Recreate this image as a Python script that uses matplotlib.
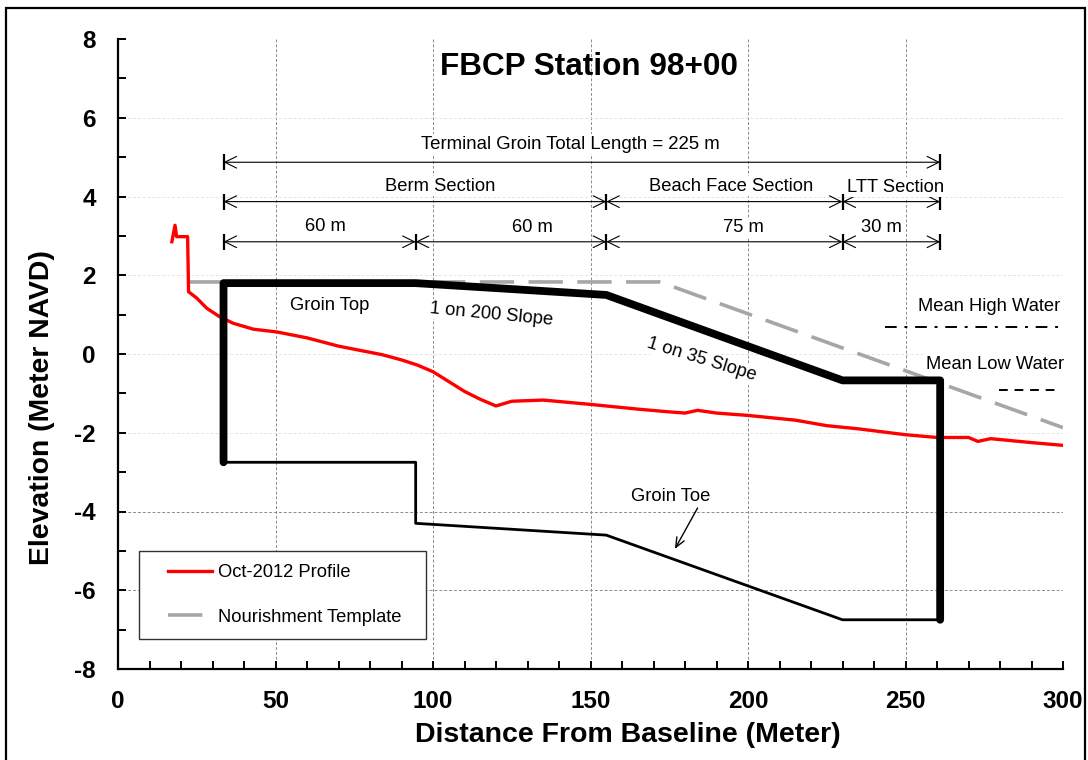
import matplotlib
matplotlib.use("Agg")
import matplotlib.pyplot as plt
from matplotlib.legend_handler import HandlerLine2D
from matplotlib.patches import Rectangle
from matplotlib.ticker import MultipleLocator

plt.rcParams["font.family"] = ["Liberation Sans", "DejaVu Sans"]
plt.rcParams["axes.unicode_minus"] = False

# Oct-2012 beach profile
profile_x = [17.1, 18.1, 18.6, 19.7, 22.1, 22.4, 25, 28.2, 32.4, 36.6, 43, 50.4, 60, 70, 84, 90, 95, 100,
             105, 110, 115, 120, 125, 135, 150, 165, 175, 180, 184, 190, 200, 215, 225, 235, 250, 260,
             270, 273, 277, 290, 300]
profile_y = [2.85, 3.27, 2.98, 2.98, 2.98, 1.58, 1.42, 1.16, 0.94, 0.78, 0.63, 0.56, 0.41, 0.2, -0.02, -0.15,
             -0.28, -0.45, -0.7, -0.95, -1.15, -1.32, -1.2, -1.17, -1.28, -1.4, -1.47, -1.5, -1.43, -1.5,
             -1.56, -1.68, -1.82, -1.9, -2.05, -2.12, -2.12, -2.22, -2.15, -2.25, -2.32]

template_x = [22, 172, 300]
template_y = [1.83, 1.83, -1.87]

groin_top_x = [33.5, 33.5, 94.5, 155, 230, 261, 261]
groin_top_y = [-2.75, 1.8, 1.8, 1.5, -0.67, -0.67, -6.75]
groin_toe_x = [33.5, 94.5, 94.5, 155, 230, 261]
groin_toe_y = [-2.75, -2.75, -4.3, -4.6, -6.75, -6.75]

mhw_x, mhw_y = [243.5, 299], [0.68, 0.68]
mlw_x, mlw_y = [279.7, 299], [-0.92, -0.92]

# dimension lines: elevation, then the stations they run between
dim_total = (4.87, [33.5, 261])
dim_sections = (3.87, [33.5, 155, 230, 261])
dim_lengths = (2.85, [33.5, 94.5, 155, 230, 261])

W, H = 1088, 760
fig = plt.figure(figsize=(W / 100, H / 100), dpi=100)
ax = fig.add_axes([118 / W, (H - 669) / H, 945 / W, 630 / H])

# outer frame runs off the bottom of the image
fig.add_artist(Rectangle((6 / W, -0.02), (1085 - 6) / W, (H - 8) / H + 0.02, transform=fig.transFigure,
                         fill=False, edgecolor="black", linewidth=1.6))

for v in [50, 100, 150, 200, 250]:
    ax.axvline(v, color="#8c8c8c", lw=0.7, ls=(0, (3, 2)), zorder=1)
for v in [-2, 0, 2, 4, 6]:
    ax.axhline(v, color="#e4e4e4", lw=0.7, ls=(0, (3, 2)), zorder=1)
for v in [-4, -6]:
    ax.axhline(v, color="#8c8c8c", lw=0.7, ls=(0, (3, 2)), zorder=1)

ax.plot(template_x, template_y, color="#a6a6a6", lw=2.6, ls=(0, (9.5, 4)), zorder=3,
        label="Nourishment Template")
ax.plot(profile_x, profile_y, color="#ff0000", lw=2.4, zorder=4, label="Oct-2012 Profile")
ax.plot(groin_top_x, groin_top_y, color="black", lw=5.6, zorder=5, solid_joinstyle="round", solid_capstyle="round")
ax.plot(groin_toe_x, groin_toe_y, color="black", lw=2.0, zorder=5)
ax.plot(mhw_x, mhw_y, color="black", lw=1.4, ls=(0, (6, 4, 1.5, 4)), zorder=3)
ax.plot(mlw_x, mlw_y, color="black", lw=1.4, ls=(0, (4.5, 3.5)), zorder=3)

for level, stations in [dim_total, dim_sections, dim_lengths]:
    for a, b in zip(stations[:-1], stations[1:]):
        ax.annotate("", xy=(b, level), xytext=(a, level), zorder=6,
                    arrowprops=dict(arrowstyle="<->,head_length=0.85,head_width=0.42", color="black", lw=0.8,
                                    shrinkA=0, shrinkB=0))
    ax.plot(stations, [level] * len(stations), ls="none", marker="|", ms=11, mew=1.6,
            color="black", zorder=6)


def note(x, y, s, size=13.2, rot=0):
    ax.text(x, y, s, ha="center", va="center", fontsize=size, rotation=rot, rotation_mode="anchor", zorder=7,
            bbox=dict(facecolor="white", edgecolor="none", pad=1.0))


ax.text(149.5, 7.3, "FBCP Station 98+00", ha="center", va="center", fontsize=22.7, fontweight="bold")
note(143.5, 5.33, "Terminal Groin Total Length = 225 m", 13.4)
note(102.2, 4.26, "Berm Section")
note(194.6, 4.26, "Beach Face Section")
note(247, 4.24, "LTT Section")
note(65.9, 3.23, "60 m")
note(131.7, 3.2, "60 m")
note(198.7, 3.2, "75 m")
note(242.4, 3.2, "30 m")
note(67.3, 1.24, "Groin Top")
note(118.4, 1.0, "1 on 200 Slope", rot=-5.5)
note(185.3, -0.15, "1 on 35 Slope", rot=-17)
note(276.5, 1.2, "Mean High Water")
note(278.4, -0.26, "Mean Low Water")
note(175.5, -3.63, "Groin Toe")
ax.annotate("", xy=(176.8, -4.95), xytext=(184, -3.91), zorder=6,
            arrowprops=dict(arrowstyle="->,head_length=0.7,head_width=0.3", color="black", lw=1.0,
                            shrinkA=0, shrinkB=0))

ax.set_xlim(0, 300)
ax.set_ylim(-8, 8)
ax.xaxis.set_major_locator(MultipleLocator(50))
ax.xaxis.set_minor_locator(MultipleLocator(10))
ax.yaxis.set_major_locator(MultipleLocator(2))
ax.yaxis.set_minor_locator(MultipleLocator(1))
ax.tick_params(which="both", direction="in", length=5.5, width=1.4)
ax.tick_params(axis="x", which="major", pad=15, labelsize=17.5)
ax.tick_params(axis="y", which="major", pad=16, labelsize=17.5)
for lab in ax.get_xticklabels() + ax.get_yticklabels():
    lab.set_fontweight("bold")
ax.spines["top"].set_visible(False)
ax.spines["right"].set_visible(False)
ax.spines["left"].set_linewidth(1.6)
ax.spines["bottom"].set_linewidth(1.6)

ax.set_xlabel("Distance From Baseline (Meter)", fontsize=20.5, fontweight="bold")
ax.xaxis.set_label_coords((628 - 118) / 945, -(735 - 669) / 630)
ax.xaxis.label.set_va("center")
ax.set_ylabel("Elevation (Meter NAVD)", fontsize=20.4, fontweight="bold")
ax.yaxis.set_label_coords((42 - 118) / 945, (669 - 408) / 630)
ax.yaxis.label.set_va("center")

handles, labels = ax.get_legend_handles_labels()
leg = ax.legend(handles[::-1], labels[::-1], loc="lower left", mode="expand",
                bbox_to_anchor=(21 / 945, 30 / 630, 287 / 945, 89 / 630), borderaxespad=0, fancybox=False,
                framealpha=1, edgecolor="#333333", fontsize=13.2, labelspacing=1.5, borderpad=0.72,
                handlelength=3.28, handletextpad=0.3,
                handler_map={h: HandlerLine2D(xpad=0.87) for h in handles})
leg.get_frame().set_linewidth(1.0)
leg.set_zorder(8)

fig.savefig("out.png", dpi=100)
